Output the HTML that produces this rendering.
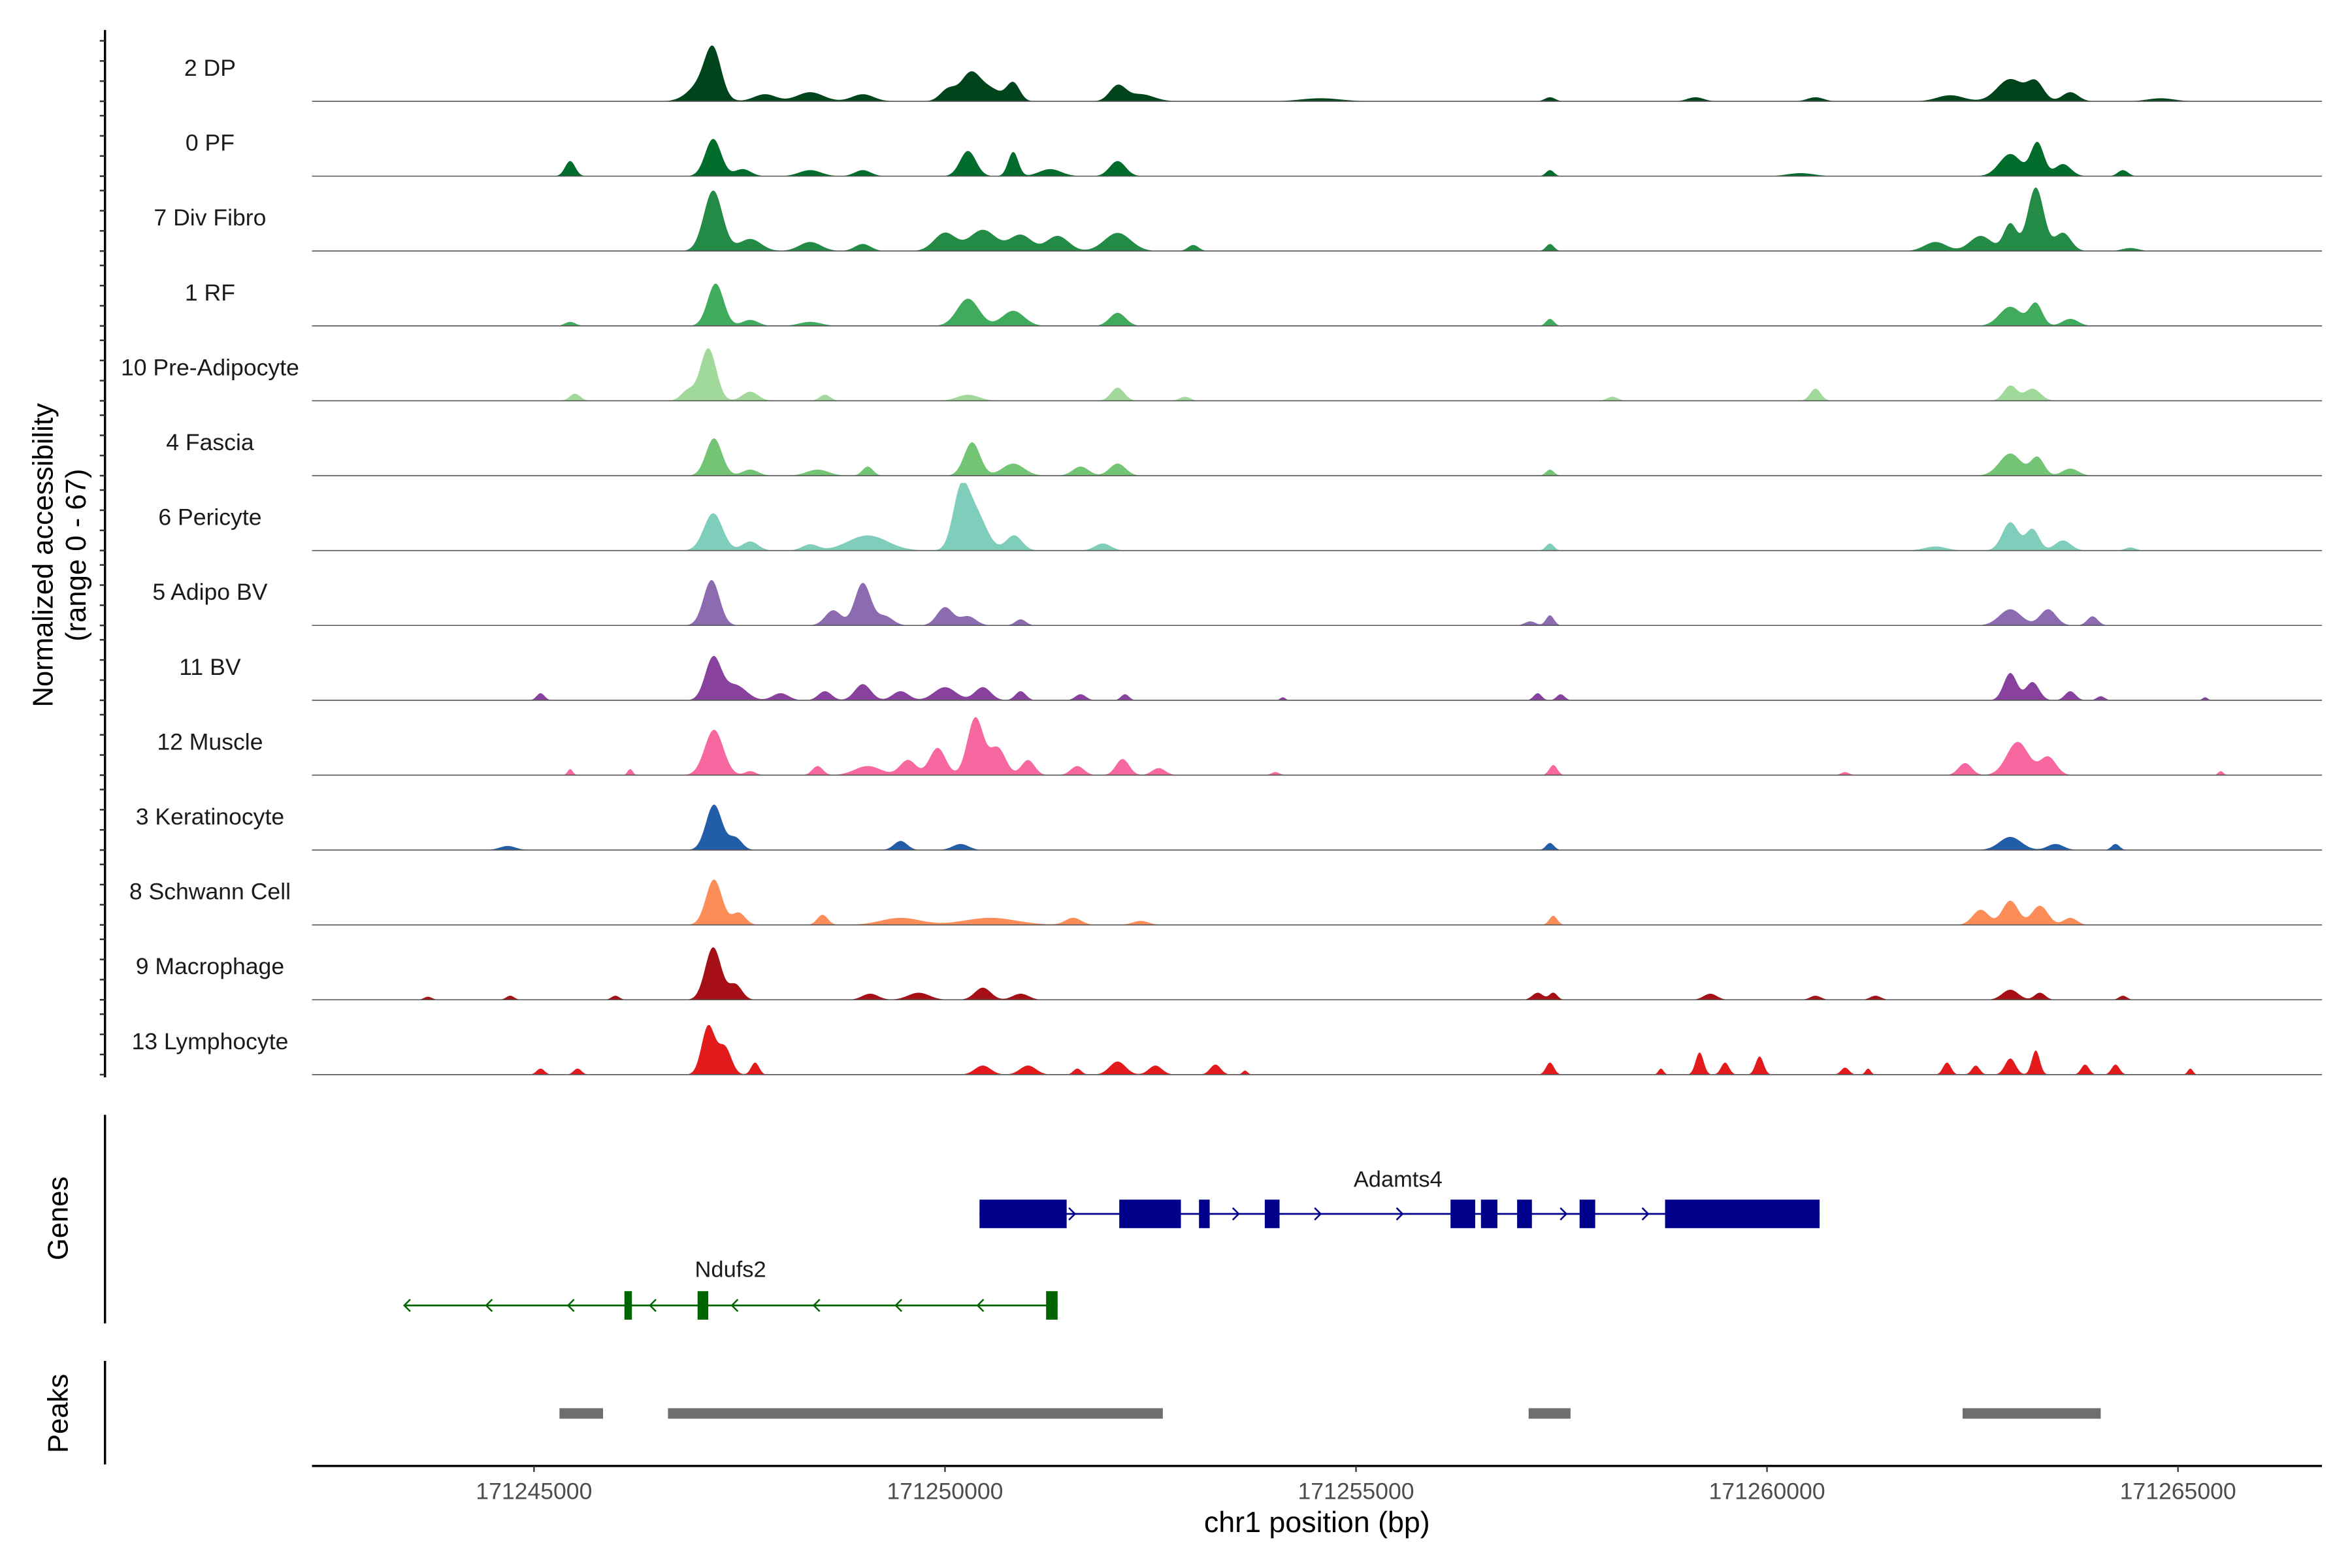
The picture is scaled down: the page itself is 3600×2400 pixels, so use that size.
<!DOCTYPE html>
<html><head><meta charset="utf-8">
<style>html,body{margin:0;padding:0;background:#fff}svg{display:block}text{font-family:"Liberation Sans",sans-serif}</style>
</head><body>
<svg id="chart" xmlns="http://www.w3.org/2000/svg" width="3600" height="2400" viewBox="0 0 1568 1045" preserveAspectRatio="none">
<rect width="1568" height="1045" fill="#fff"/>
<g id="tracks"></g>
<g id="genes"></g>
<g id="peaks"></g>
<g id="xaxis"></g>
<text transform="translate(35,370) rotate(-90)" text-anchor="middle" font-size="19">Normalized accessibility</text>
<text transform="translate(57,370) rotate(-90)" text-anchor="middle" font-size="19">(range 0 - 67)</text>
<text transform="translate(45,812) rotate(-90)" text-anchor="middle" font-size="19">Genes</text>
<text transform="translate(45,942) rotate(-90)" text-anchor="middle" font-size="19">Peaks</text>
<text x="878" y="1021" text-anchor="middle" font-size="19.5">chr1 position (bp)</text>
</svg>
<script>
// ---- data (positions in kb on chr1, heights in normalized accessibility 0-67) ----
const trackNames = ["2 DP","0 PF","7 Div Fibro","1 RF","10 Pre-Adipocyte","4 Fascia","6 Pericyte","5 Adipo BV","11 BV","12 Muscle","3 Keratinocyte","8 Schwann Cell","9 Macrophage","13 Lymphocyte"];
const trackColors = ["#00441b","#006d2c","#238b45","#41ab5d","#a1d99b","#74c476","#7fcdbb","#8c6bb1","#88419d","#f768a1","#225ea8","#fc8d59","#a50f15","#e31a1c"];
const peaksDP = [[171247.18,42,.11],[171247.05,18,.18],[171247.81,7,.15],[171248.36,9,.18],[171249.00,7,.15],[171250.31,27,.13],[171250.04,12,.11],[171250.83,18,.09],[171250.55,12,.15],[171252.10,15,.11],[171252.38,7,.18],[171257.36,4,.07],[171259.13,4,.11],[171260.59,4,.11],[171262.96,22,.18],[171263.27,18,.11],[171263.69,9,.11],[171262.23,6,.18],[171264.79,3,.18],[171254.57,3,.27]];
const peaksPF = [[171245.44,15,.07],[171247.18,37,.11],[171247.54,7,.11],[171248.36,6,.15],[171249.00,6,.11],[171250.28,25,.11],[171250.83,24,.07],[171251.28,7,.15],[171252.10,15,.11],[171257.36,6,.055],[171262.96,22,.15],[171263.29,33,.09],[171263.60,12,.11],[171264.33,6,.07],[171260.41,3,.18]];
const peaksDiv = [[171247.18,60,.128],[171247.63,12,.15],[171248.36,9,.15],[171249.00,7,.11],[171250.00,18,.15],[171250.46,21,.18],[171250.92,16,.15],[171251.37,15,.15],[171252.10,18,.18],[171253.02,6,.073],[171257.36,7,.055],[171262.05,9,.15],[171262.60,15,.15],[171262.96,27,.09],[171263.27,63,.11],[171263.60,18,.11],[171264.42,3,.11]];
const peaksRF = [[171247.21,42,.11],[171247.63,6,.11],[171248.36,4,.15],[171250.28,27,.15],[171250.83,15,.15],[171252.10,13,.11],[171257.36,7,.055],[171262.96,19,.15],[171263.27,22,.09],[171263.69,7,.11],[171245.44,4,.073]];
const peaksPre = [[171247.12,52,.11],[171246.87,10,.091],[171247.63,9,.11],[171245.50,7,.073],[171248.54,6,.073],[171250.28,6,.15],[171252.10,13,.091],[171252.92,4,.073],[171258.12,4,.073],[171260.59,12,.073],[171262.96,15,.091],[171263.23,12,.11]];
const peaksFascia = [[171247.19,37,.11],[171247.63,6,.11],[171248.45,6,.15],[171249.06,9,.073],[171250.33,33,.11],[171250.83,12,.15],[171251.65,9,.11],[171252.10,12,.11],[171257.36,6,.055],[171262.96,22,.15],[171263.29,18,.091],[171263.69,7,.11]];
const peaksPeri = [[171247.18,37,.128],[171247.63,9,.11],[171248.36,6,.11],[171249.06,15,.27],[171250.19,52,.11],[171250.37,37,.15],[171250.84,15,.11],[171251.92,7,.11],[171257.36,7,.055],[171262.96,28,.11],[171263.23,21,.091],[171263.60,10,.11],[171262.05,4,.15],[171264.42,3,.073]];
const peaksABV = [[171247.16,45,.11],[171248.64,15,.11],[171249.00,42,.11],[171249.27,9,.11],[171250.00,18,.11],[171250.28,9,.11],[171250.92,6,.073],[171257.36,10,.055],[171262.96,16,.15],[171263.42,16,.11],[171263.96,9,.073],[171257.12,4,.073]];
const peaksBV = [[171247.18,42,.11],[171247.45,15,.15],[171248.00,7,.11],[171248.54,9,.091],[171249.00,16,.11],[171249.46,9,.11],[171250.00,13,.15],[171250.46,13,.11],[171250.92,9,.073],[171251.65,6,.073],[171252.19,6,.055],[171245.08,7,.055],[171257.21,7,.055],[171257.49,6,.055],[171262.96,27,.091],[171263.23,18,.091],[171263.69,9,.073],[171264.06,4,.055],[171254.11,3,.036],[171265.33,3,.036]];
const peaksMus = [[171247.19,45,.128],[171247.63,4,.073],[171248.45,9,.073],[171249.06,9,.18],[171249.55,15,.11],[171249.91,27,.11],[171250.37,57,.11],[171250.64,27,.11],[171251.01,15,.091],[171251.61,9,.091],[171252.16,16,.091],[171252.60,7,.091],[171254.02,3,.055],[171245.44,6,.036],[171246.17,6,.036],[171257.40,10,.055],[171263.05,33,.15],[171263.42,18,.11],[171262.41,12,.091],[171265.52,4,.036],[171260.95,3,.055]];
const peaksKer = [[171247.19,45,.11],[171247.45,12,.091],[171244.68,4,.11],[171249.46,9,.091],[171250.19,6,.11],[171257.36,7,.055],[171262.96,13,.15],[171263.51,6,.11],[171264.24,6,.055]];
const peaksSch = [[171247.19,45,.11],[171247.49,12,.091],[171248.51,10,.073],[171249.46,7,.27],[171250.55,7,.36],[171251.56,7,.11],[171252.38,4,.11],[171257.40,9,.055],[171262.60,15,.11],[171262.96,24,.11],[171263.32,19,.11],[171263.69,7,.091]];
const peaksMac = [[171247.18,52,.11],[171247.45,15,.091],[171244.71,4,.055],[171245.99,4,.055],[171249.09,6,.11],[171249.68,7,.146],[171250.46,12,.11],[171250.92,6,.11],[171257.21,7,.073],[171257.40,7,.055],[171259.31,6,.091],[171260.59,4,.073],[171261.32,4,.073],[171262.96,10,.11],[171263.32,7,.073],[171264.33,4,.055],[171243.71,3,.055]];
const peaksLym = [[171247.12,48,.091],[171247.32,27,.091],[171247.69,12,.055],[171245.08,6,.055],[171245.53,6,.055],[171250.46,9,.11],[171251.01,9,.11],[171251.61,6,.055],[171252.10,13,.11],[171252.56,9,.091],[171253.29,10,.073],[171253.65,4,.036],[171257.36,12,.055],[171258.71,6,.036],[171259.18,22,.055],[171259.49,12,.055],[171259.91,18,.055],[171260.95,7,.055],[171261.23,6,.036],[171262.19,12,.055],[171262.54,9,.055],[171262.96,16,.073],[171263.27,24,.055],[171263.87,10,.055],[171264.24,10,.055],[171265.15,6,.036]];
const trackPeaks = [peaksDP,peaksPF,peaksDiv,peaksRF,peaksPre,peaksFascia,peaksPeri,peaksABV,peaksBV,peaksMus,peaksKer,peaksSch,peaksMac,peaksLym];
const yTicks = [0,20,40,60];
const xTicks = [171245000,171250000,171255000,171260000,171265000];
const adamtsExons = [[171250.42,171251.48],[171252.12,171252.87],[171253.09,171253.22],[171253.89,171254.07],[171256.15,171256.45],[171256.52,171256.72],[171256.96,171257.14],[171257.72,171257.91],[171258.76,171260.64]];
const adamtsSpan = [171250.42,171260.64];
const ndufsExons = [[171246.10,171246.19],[171246.99,171247.12],[171251.23,171251.37]];
const ndufsSpan = [171243.44,171251.37];
const peakRegions = [[171245.31,171245.84],[171246.63,171252.65],[171257.10,171257.61],[171262.38,171264.06]];

// ---- scales ----
const NS="http://www.w3.org/2000/svg";
const X0=208, X1=1548;
function xS(kb){ return 356 + (kb-171245)*54.8; }
function kbAt(x){ return 171245 + (x-356)/54.8; }
function yS(v, base){ return base - Math.min(v,67)*45/67; }
function mk(tag, attrs, parent){ const e=document.createElementNS(NS,tag); for(const k in attrs) e.setAttribute(k,attrs[k]); parent.appendChild(e); return e; }
const gT=document.getElementById('tracks');

let ax=mk('line',{x1:70,x2:70,y1:20,y2:718,stroke:'#000','stroke-width':1.5},gT);



trackNames.forEach((name,i)=>{
  const base = 67.5 + i*49.9;
  const peaks = trackPeaks[i];
  let d='M'+X0+','+base;
  for(let x=X0; x<=X1; x+=0.5){
    const kb = kbAt(x);
    let v=0;
    for(const p of peaks){ const t=(kb-p[0])/(p[2]*1.25); if(Math.abs(t)<4) v+=p[1]*Math.exp(-t*t); }
    d+=' L'+x.toFixed(1)+','+yS(v,base).toFixed(2);
  }
  d+=' L'+X1+','+base+' Z';
  const area=mk('path',{d:d,fill:trackColors[i]},gT);
  
  
  const bl=mk('line',{x1:X0,x2:X1,y1:base,y2:base,stroke:'#555','stroke-width':0.7},gT);
  
  
  const lab=mk('text',{x:140,y:base-17,'text-anchor':'middle','font-size':15.5,fill:'#1a1a1a'},gT);
  lab.textContent=name;
  
  
  yTicks.forEach(t=>{
    const tk=mk('line',{x1:66.5,x2:70,y1:yS(t,base),y2:yS(t,base),stroke:'#333','stroke-width':1.1},gT);
    
    
  });
});

const gG=document.getElementById('genes');
let ga=mk('line',{x1:70,x2:70,y1:743,y2:882,stroke:'#000','stroke-width':1.5},gG);


function drawGene(span,exons,y,color,h,dir,label,lx,ly,nm){
  const ln=mk('line',{x1:xS(span[0]),x2:xS(span[1]),y1:y,y2:y,stroke:color,'stroke-width':1.2},gG);
  
  
  for(let x=xS(span[0])+ (dir>0?8:0); x<xS(span[1])-4; x+=54.6){
    const inEx = exons.some(e=>x>xS(e[0])-3&&x<xS(e[1])+3);
    if(inEx) continue;
    const ar=mk('path',{d:dir>0?`M${x-3},${y-4} L${x+1},${y} L${x-3},${y+4}`:`M${x+3},${y-4} L${x-1},${y} L${x+3},${y+4}`,fill:'none',stroke:color,'stroke-width':1.1},gG);
    
    
  }
  exons.forEach(e=>{
    const r=mk('rect',{x:xS(e[0]),y:y-h/2,width:Math.max(xS(e[1])-xS(e[0]),5),height:h,fill:color},gG);
    
    
  });
  const t=mk('text',{x:lx,y:ly,'text-anchor':'middle','font-size':15,fill:'#1a1a1a'},gG);
  t.textContent=label;
  
  
}
drawGene(adamtsSpan,adamtsExons,809,'#00008b',19,1,'Adamts4',932,791,'adamts4');
drawGene(ndufsSpan,ndufsExons,870,'#006400',19,-1,'Ndufs2',487,851,'ndufs2');

const gP=document.getElementById('peaks');
let pa=mk('line',{x1:70,x2:70,y1:907,y2:976,stroke:'#000','stroke-width':1.5},gP);


peakRegions.forEach(p=>{
  const r=mk('rect',{x:xS(p[0]),y:938.5,width:xS(p[1])-xS(p[0]),height:7,fill:'#6e6e6e'},gP);
  
  
});

const gX=document.getElementById('xaxis');
let xl=mk('line',{x1:X0,x2:X1,y1:977,y2:977,stroke:'#000','stroke-width':1.5},gX);


xTicks.forEach(t=>{
  const x=xS(t/1000);
  const tk=mk('line',{x1:x,x2:x,y1:977,y2:981,stroke:'#333','stroke-width':1},gX);
  
  
  const tx=mk('text',{x:x,y:999,'text-anchor':'middle','font-size':15.5,fill:'#4d4d4d'},gX);
  tx.textContent=String(t);
  
  
});
</script>
</body></html>
